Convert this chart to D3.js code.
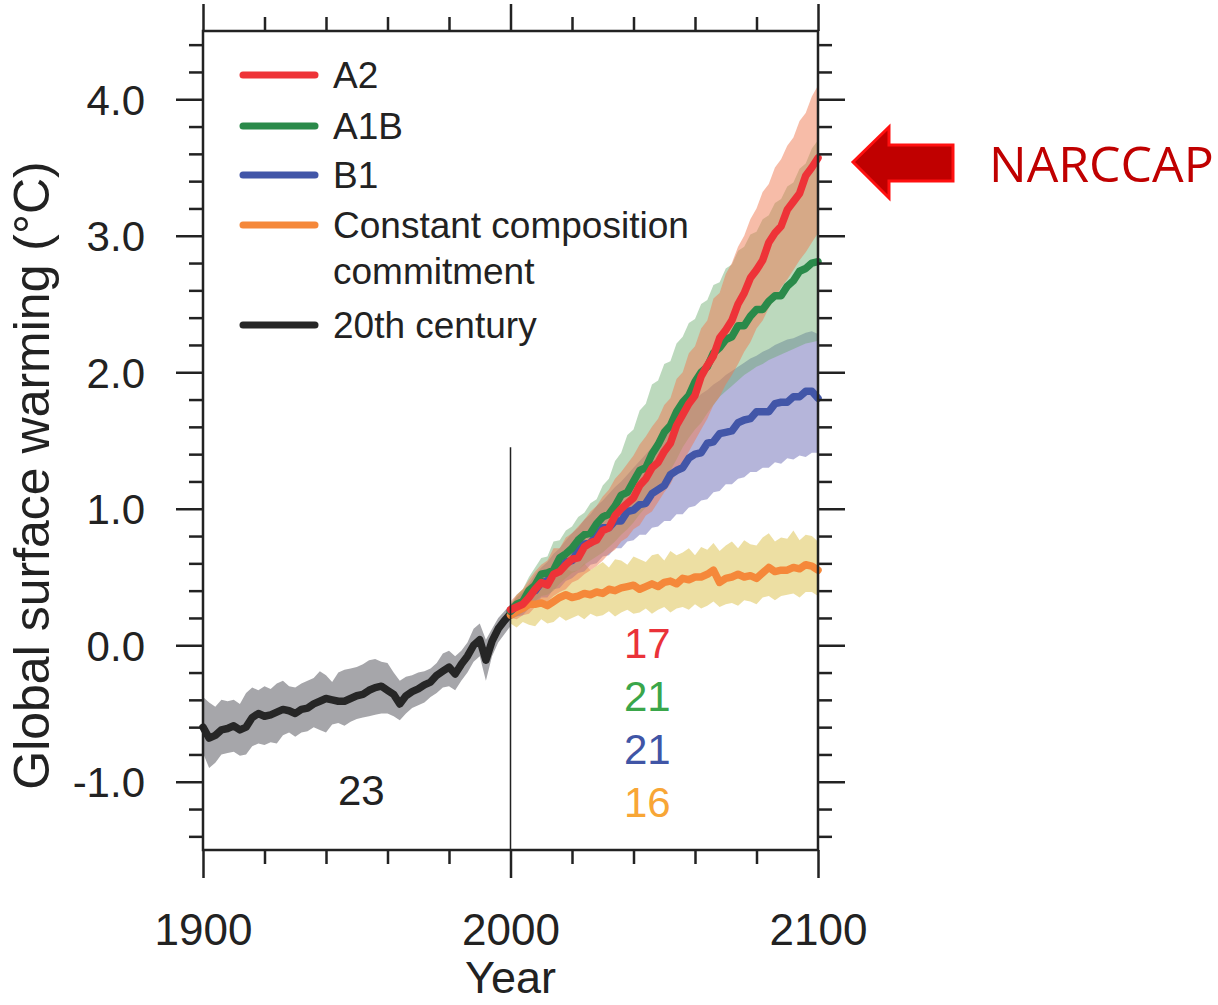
<!DOCTYPE html>
<html>
<head>
<meta charset="utf-8">
<script src="https://cdn.jsdelivr.net/npm/d3@7"></script>
<style>
  html, body { margin: 0; padding: 0; background: #fff; }
  svg { display: block; }
  text { font-family: "Liberation Sans", Arial, Helvetica, sans-serif; fill: #222; }
</style>
</head>
<body>
<svg id="chart" width="1218" height="1005"></svg>
<script>
// ---------------- DATA ----------------
const histYears = d3.range(1900, 2001, 2);
const histMean = [-0.60,-0.68,-0.66,-0.62,-0.61,-0.59,-0.62,-0.60,-0.53,-0.50,-0.52,-0.51,-0.49,-0.47,-0.48,-0.50,-0.47,-0.46,-0.43,-0.41,-0.39,-0.40,-0.41,-0.41,-0.39,-0.37,-0.36,-0.33,-0.31,-0.30,-0.33,-0.36,-0.43,-0.37,-0.34,-0.32,-0.29,-0.27,-0.22,-0.19,-0.16,-0.21,-0.14,-0.08,0.00,0.04,-0.11,0.03,0.12,0.18,0.23];
const histUpper = [-0.38,-0.42,-0.45,-0.40,-0.41,-0.40,-0.43,-0.35,-0.31,-0.33,-0.30,-0.32,-0.28,-0.26,-0.30,-0.31,-0.28,-0.26,-0.24,-0.19,-0.22,-0.27,-0.20,-0.18,-0.17,-0.16,-0.14,-0.11,-0.10,-0.12,-0.13,-0.20,-0.26,-0.23,-0.22,-0.20,-0.19,-0.17,-0.13,-0.06,-0.04,-0.08,-0.04,0.02,0.12,0.16,0.04,0.12,0.20,0.25,0.30];
const histLower = [-0.79,-0.90,-0.86,-0.80,-0.79,-0.78,-0.81,-0.80,-0.74,-0.72,-0.73,-0.71,-0.72,-0.66,-0.64,-0.67,-0.64,-0.63,-0.60,-0.62,-0.64,-0.58,-0.57,-0.59,-0.56,-0.54,-0.53,-0.52,-0.51,-0.50,-0.50,-0.52,-0.55,-0.50,-0.46,-0.44,-0.42,-0.38,-0.35,-0.31,-0.30,-0.33,-0.26,-0.20,-0.12,-0.08,-0.26,-0.08,0.02,0.08,0.14];

const futYears = d3.range(2000, 2101, 2);
const a2Mean  = [0.26,0.28,0.30,0.35,0.41,0.46,0.44,0.52,0.54,0.59,0.63,0.64,0.72,0.75,0.77,0.84,0.86,0.95,1.00,1.04,1.08,1.17,1.22,1.30,1.34,1.42,1.48,1.61,1.69,1.77,1.83,1.97,2.05,2.12,2.25,2.31,2.38,2.50,2.58,2.69,2.75,2.82,2.95,3.02,3.07,3.19,3.25,3.31,3.44,3.50,3.57];
const a2Upper = [0.32,0.37,0.41,0.48,0.54,0.59,0.62,0.71,0.71,0.79,0.82,0.87,0.92,0.98,1.02,1.09,1.14,1.22,1.27,1.33,1.39,1.47,1.53,1.60,1.66,1.76,1.81,1.95,2.00,2.14,2.19,2.32,2.38,2.54,2.58,2.72,2.80,2.92,3.00,3.12,3.20,3.32,3.38,3.50,3.56,3.66,3.72,3.84,3.90,4.02,4.10];
const a2Lower = [0.20,0.19,0.22,0.23,0.28,0.32,0.32,0.36,0.39,0.41,0.46,0.48,0.52,0.55,0.58,0.62,0.67,0.70,0.76,0.79,0.85,0.88,0.95,0.98,1.05,1.12,1.18,1.27,1.34,1.42,1.50,1.58,1.66,1.76,1.82,1.91,1.98,2.06,2.15,2.22,2.32,2.38,2.47,2.54,2.62,2.68,2.75,2.82,2.88,2.95,3.02];

const a1bMean  = [0.25,0.30,0.32,0.40,0.44,0.52,0.53,0.55,0.64,0.67,0.71,0.77,0.81,0.82,0.89,0.94,0.96,1.02,1.10,1.12,1.20,1.28,1.30,1.40,1.47,1.56,1.61,1.71,1.78,1.83,1.93,2.00,2.04,2.14,2.18,2.24,2.26,2.34,2.34,2.41,2.46,2.46,2.52,2.56,2.56,2.63,2.67,2.74,2.76,2.80,2.81];
const a1bUpper = [0.30,0.37,0.41,0.50,0.57,0.64,0.65,0.76,0.77,0.84,0.87,0.94,0.97,1.04,1.07,1.17,1.22,1.35,1.41,1.54,1.58,1.72,1.77,1.91,1.94,2.06,2.08,2.21,2.26,2.36,2.39,2.50,2.53,2.64,2.66,2.76,2.79,2.89,2.92,3.01,3.03,3.12,3.15,3.24,3.27,3.36,3.39,3.49,3.53,3.64,3.70];
const a1bLower = [0.19,0.21,0.24,0.28,0.32,0.36,0.37,0.40,0.45,0.49,0.53,0.55,0.59,0.62,0.65,0.68,0.72,0.76,0.81,0.85,0.90,0.96,1.01,1.07,1.14,1.20,1.28,1.36,1.45,1.52,1.58,1.63,1.70,1.76,1.82,1.86,1.90,1.94,1.98,2.01,2.04,2.06,2.09,2.11,2.13,2.15,2.17,2.19,2.21,2.22,2.23];

const b1Mean  = [0.25,0.29,0.31,0.38,0.40,0.46,0.47,0.54,0.56,0.61,0.62,0.69,0.74,0.75,0.80,0.86,0.86,0.91,0.91,0.98,0.99,1.03,1.04,1.11,1.14,1.17,1.25,1.28,1.30,1.37,1.40,1.41,1.48,1.49,1.55,1.56,1.57,1.63,1.65,1.66,1.71,1.71,1.71,1.77,1.78,1.78,1.82,1.82,1.86,1.86,1.81];
const b1Upper = [0.30,0.35,0.39,0.45,0.52,0.57,0.61,0.67,0.71,0.77,0.82,0.86,0.92,0.96,1.02,1.06,1.11,1.16,1.20,1.25,1.30,1.35,1.40,1.45,1.50,1.55,1.60,1.66,1.72,1.77,1.80,1.84,1.87,1.91,1.94,1.98,2.01,2.04,2.07,2.10,2.12,2.15,2.17,2.20,2.22,2.24,2.25,2.27,2.29,2.30,2.28];
const b1Lower = [0.19,0.21,0.22,0.27,0.29,0.35,0.35,0.41,0.42,0.47,0.49,0.53,0.54,0.59,0.60,0.65,0.66,0.71,0.71,0.76,0.77,0.81,0.81,0.86,0.87,0.91,0.91,0.96,0.96,1.01,1.02,1.06,1.07,1.12,1.13,1.18,1.18,1.22,1.23,1.27,1.27,1.30,1.30,1.34,1.33,1.37,1.36,1.39,1.38,1.41,1.41];

const ccMean  = [0.22,0.25,0.27,0.30,0.30,0.31,0.29,0.32,0.35,0.37,0.35,0.36,0.38,0.37,0.39,0.38,0.41,0.40,0.42,0.43,0.44,0.41,0.43,0.45,0.43,0.46,0.47,0.45,0.49,0.48,0.50,0.50,0.52,0.55,0.46,0.49,0.50,0.52,0.50,0.51,0.49,0.53,0.57,0.54,0.55,0.55,0.57,0.56,0.59,0.58,0.55];
const ccUpper = [0.28,0.36,0.41,0.44,0.49,0.47,0.50,0.53,0.50,0.56,0.54,0.55,0.60,0.55,0.58,0.61,0.57,0.63,0.62,0.59,0.65,0.63,0.61,0.66,0.67,0.62,0.69,0.66,0.68,0.71,0.66,0.72,0.70,0.75,0.69,0.73,0.76,0.71,0.77,0.74,0.73,0.79,0.82,0.76,0.79,0.78,0.84,0.77,0.81,0.80,0.76];
const ccLower = [0.16,0.13,0.17,0.15,0.14,0.19,0.16,0.17,0.21,0.18,0.20,0.22,0.19,0.23,0.21,0.22,0.25,0.21,0.24,0.26,0.23,0.24,0.27,0.23,0.26,0.28,0.24,0.27,0.28,0.26,0.30,0.27,0.29,0.32,0.28,0.30,0.31,0.29,0.33,0.32,0.30,0.35,0.36,0.33,0.36,0.37,0.38,0.35,0.39,0.39,0.36];

const legendLabels = [["A2"], ["A1B"], ["B1"], ["Constant composition", "commitment"], ["20th century"]];
const modelCounts = ["17", "21", "21", "16"];
const histCount = "23";
const yTicks = [-1, 0, 1, 2, 3, 4];
const xTicks = [1900, 2000, 2100];

// ---------------- LAYOUT ----------------
const svg = d3.select("#chart");
const x = d3.scaleLinear().domain([1900, 2100]).range([203, 818]);
const y = d3.scaleLinear().domain([-1.5, 4.5]).range([850, 31]);

const colors = {
  a2: "#ee3338", a1b: "#2a8a4a", b1: "#4256a8", cc: "#f5883a", hist: "#262626"
};
const bandColors = {
  a2: "#f07a52", a1b: "#6aaa6c", b1: "#6c6cb6", cc: "#dcc24e", hist: "#a6a6aa"
};
const numColors = ["#ea3239", "#3aa64a", "#4055a6", "#f8a636"];

const zip = (years, lo, hi) => years.map((yr, i) => ({yr, lo: lo[i], hi: hi[i]}));
const pts = (years, v) => years.map((yr, i) => ({yr, v: v[i]}));
const area = d3.area().x(d => x(d.yr)).y0(d => y(d.lo)).y1(d => y(d.hi));
const line = d3.line().x(d => x(d.yr)).y(d => y(d.v));

const plot = svg.append("g");

// bands
plot.append("path").attr("d", area(zip(histYears, histLower, histUpper))).attr("fill", bandColors.hist);
plot.append("path").attr("d", area(zip(futYears, ccLower, ccUpper))).attr("fill", bandColors.cc).attr("fill-opacity", 0.52);
plot.append("path").attr("d", area(zip(futYears, b1Lower, b1Upper))).attr("fill", bandColors.b1).attr("fill-opacity", 0.5);
plot.append("path").attr("d", area(zip(futYears, a1bLower, a1bUpper))).attr("fill", bandColors.a1b).attr("fill-opacity", 0.45);
plot.append("path").attr("d", area(zip(futYears, a2Lower, a2Upper))).attr("fill", bandColors.a2).attr("fill-opacity", 0.5);

// lines
const drawLine = (years, vals, col) => plot.append("path").attr("d", line(pts(years, vals)))
  .attr("fill", "none").attr("stroke", col).attr("stroke-width", 7.5)
  .attr("stroke-linejoin", "round").attr("stroke-linecap", "round");
drawLine(histYears, histMean, colors.hist);
drawLine(futYears, ccMean, colors.cc);
drawLine(futYears, b1Mean, colors.b1);
drawLine(futYears, a1bMean, colors.a1b);
drawLine(futYears, a2Mean, colors.a2);

// vertical line at 2000
plot.append("line").attr("x1", x(2000)).attr("x2", x(2000)).attr("y1", y(1.45)).attr("y2", y(-1.5))
  .attr("stroke", "#222").attr("stroke-width", 1.5);

// frame
svg.append("rect").attr("x", x(1900)).attr("y", y(4.5)).attr("width", x(2100) - x(1900)).attr("height", y(-1.5) - y(4.5))
  .attr("fill", "none").attr("stroke", "#222").attr("stroke-width", 2.5);

// axes with ticks
const yMinor = d3.range(-1.4, 4.41, 0.2).filter(v => Math.abs(v - Math.round(v)) > 0.01);
const xMinor = d3.range(1920, 2100, 20).filter(v => v !== 2000);
const yFmt = v => d3.format(".1f")(v).replace("\u2212", "-");

function styleAxis(g) {
  g.select(".domain").remove();
  g.selectAll(".tick line").attr("stroke", "#222").attr("stroke-width", 2.5);
}
// left
svg.append("g").attr("transform", `translate(${x(1900)},0)`)
  .call(d3.axisLeft(y).tickValues(yTicks).tickSize(27).tickPadding(31).tickFormat(yFmt))
  .call(styleAxis)
  .call(g => g.selectAll(".tick text").attr("font-size", 42).attr("fill", "#222")
    .style("font-family", "'Liberation Sans', Arial, sans-serif").attr("dy", "0.36em"));
svg.append("g").attr("transform", `translate(${x(1900)},0)`)
  .call(d3.axisLeft(y).tickValues(yMinor).tickSize(14).tickFormat(""))
  .call(styleAxis);
// right
svg.append("g").attr("transform", `translate(${x(2100)},0)`)
  .call(d3.axisRight(y).tickValues(yTicks).tickSize(27).tickFormat(""))
  .call(styleAxis);
svg.append("g").attr("transform", `translate(${x(2100)},0)`)
  .call(d3.axisRight(y).tickValues(yMinor).tickSize(14).tickFormat(""))
  .call(styleAxis);
// bottom
svg.append("g").attr("transform", `translate(0,${y(-1.5)})`)
  .call(d3.axisBottom(x).tickValues(xTicks).tickSize(28).tickPadding(36).tickFormat(d3.format("d")))
  .call(styleAxis)
  .call(g => g.selectAll(".tick text").attr("font-size", 44).attr("fill", "#222")
    .style("font-family", "'Liberation Sans', Arial, sans-serif"));
svg.append("g").attr("transform", `translate(0,${y(-1.5)})`)
  .call(d3.axisBottom(x).tickValues(xMinor).tickSize(14).tickFormat(""))
  .call(styleAxis);
// top
svg.append("g").attr("transform", `translate(0,${y(4.5)})`)
  .call(d3.axisTop(x).tickValues(xTicks).tickSize(27).tickFormat(""))
  .call(styleAxis);
svg.append("g").attr("transform", `translate(0,${y(4.5)})`)
  .call(d3.axisTop(x).tickValues(xMinor).tickSize(14).tickFormat(""))
  .call(styleAxis);

// axis titles
svg.append("text").attr("x", x(2000)).attr("y", 993).attr("text-anchor", "middle")
  .attr("font-size", 45).text("Year");
svg.append("text").attr("transform", `translate(49,${(y(4.5)+y(-1.5))/2 + 35}) rotate(-90)`)
  .attr("text-anchor", "middle").attr("font-size", 50).text("Global surface warming (°C)");

// legend
const legY = [75, 126, 175, 225, 325];
const legCols = [colors.a2, colors.a1b, colors.b1, colors.cc, colors.hist];
const leg = svg.append("g");
legendLabels.forEach((lbl, i) => {
  leg.append("line").attr("x1", 243).attr("x2", 315).attr("y1", legY[i]).attr("y2", legY[i])
    .attr("stroke", legCols[i]).attr("stroke-width", 7).attr("stroke-linecap", "round");
  lbl.forEach((t, j) => {
    leg.append("text").attr("x", 333).attr("y", legY[i] + 12.5 + j * 46).attr("font-size", 37).text(t);
  });
});

// model counts
const numBase = [658, 711, 764, 817];
modelCounts.forEach((t, i) => {
  svg.append("text").attr("x", x(2044.5)).attr("y", numBase[i]).attr("text-anchor", "middle")
    .attr("font-size", 42).attr("fill", numColors[i]).style("fill", numColors[i]).text(t);
});
svg.append("text").attr("x", x(1951.5)).attr("y", 805).attr("text-anchor", "middle")
  .attr("font-size", 42).text(histCount);

// NARCCAP arrow
const arrow = svg.append("g");
arrow.append("path")
  .attr("d", "M853,162 L889,127 L889,145 L953,145 L953,181 L889,181 L889,198 Z")
  .attr("fill", "#c00000").attr("stroke", "#ff1010").attr("stroke-width", 3).attr("stroke-linejoin", "miter");
arrow.append("text").attr("x", 989).attr("y", 182).attr("font-size", 50)
  .style("font-family", "'Open Sans', 'Noto Sans', sans-serif").style("fill", "#c00000").text("NARCCAP");
</script>
</body>
</html>
